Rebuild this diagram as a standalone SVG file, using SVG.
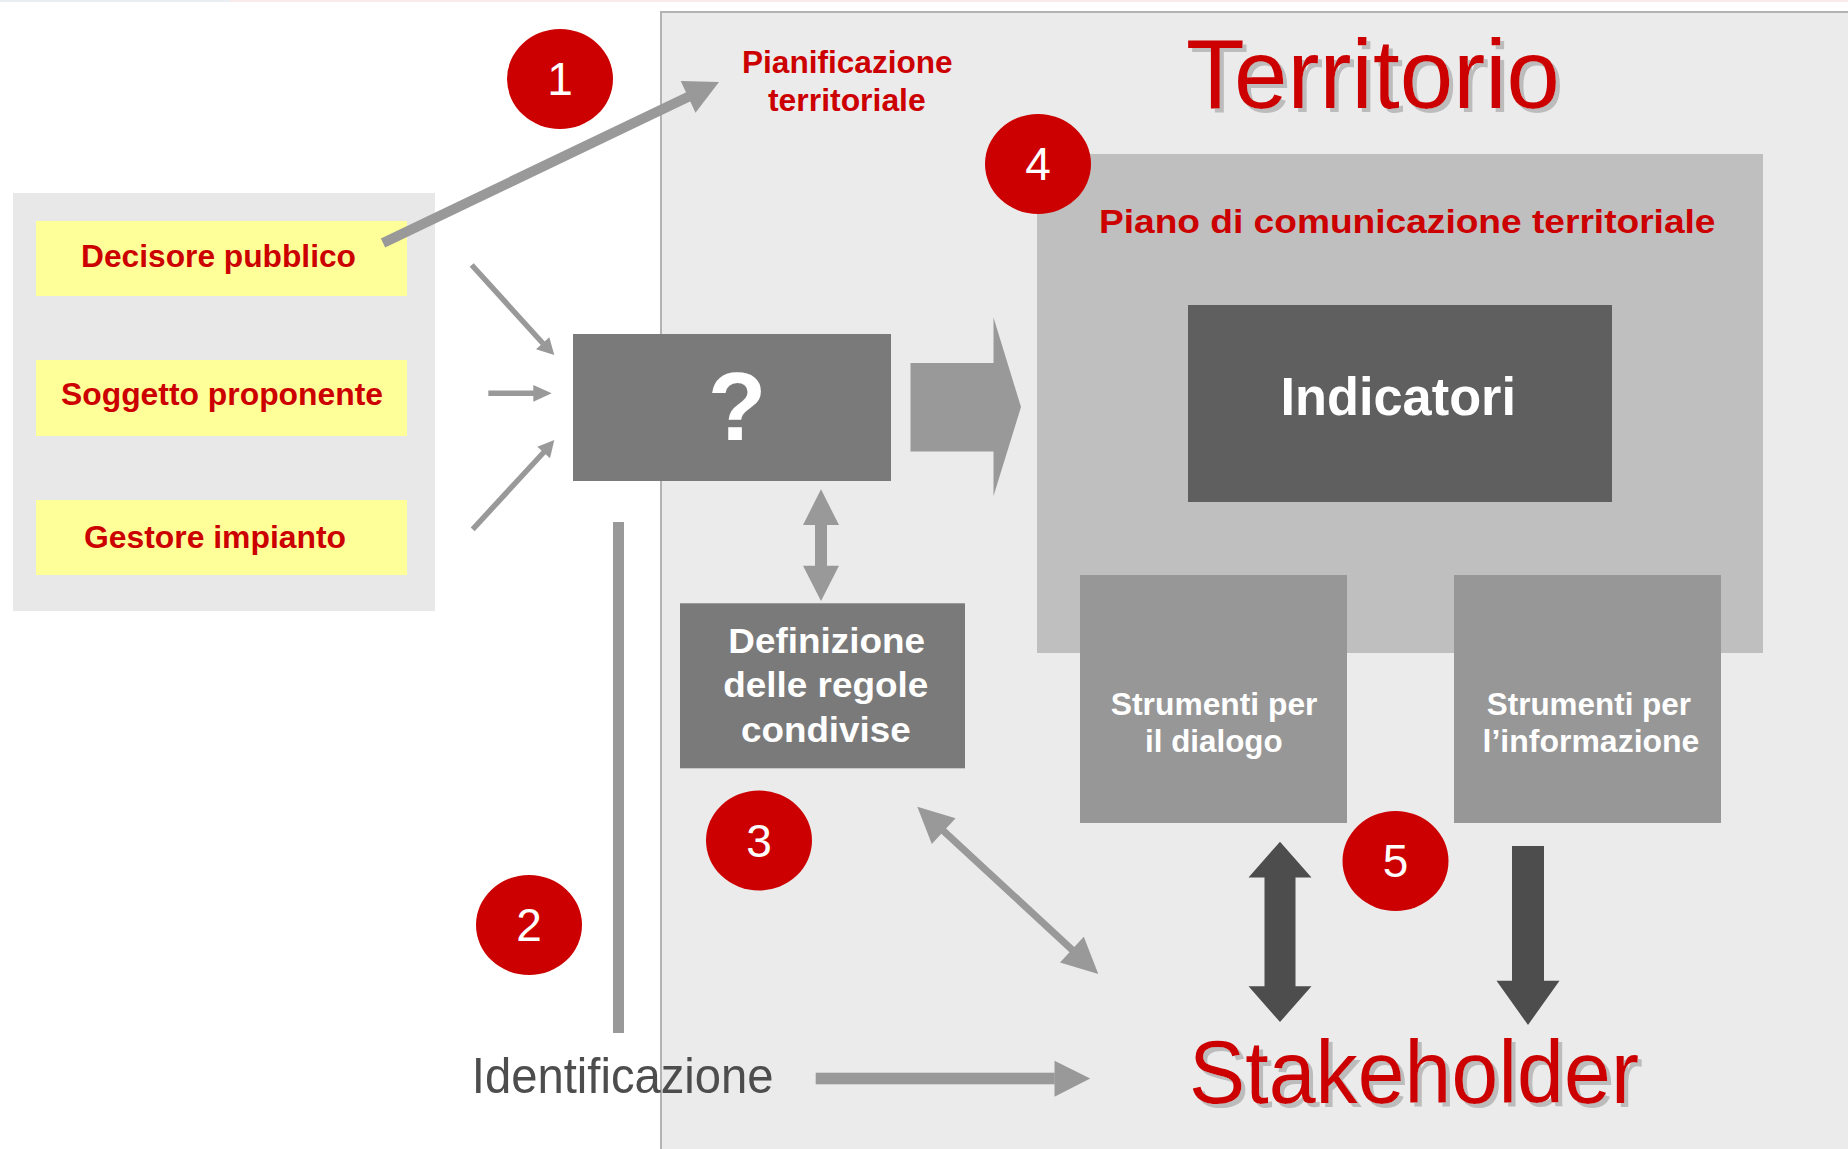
<svg xmlns="http://www.w3.org/2000/svg" width="1848" height="1149" viewBox="0 0 1848 1149">
<defs>
<filter id="shadow" x="-5%" y="-10%" width="115%" height="130%">
<feDropShadow dx="4" dy="4" stdDeviation="0.6" flood-color="#bcbcbc" flood-opacity="1"/>
</filter>
<style>
.b{font-family:"Liberation Sans",Arial,Helvetica,sans-serif;font-weight:bold}
.r{font-family:"Liberation Sans",Arial,Helvetica,sans-serif;font-weight:normal}
.red{fill:#cc0000}
.wh{fill:#ffffff}
.yel{fill:#ffff99}
.arr{fill:#999999}
.ln{stroke:#999999;fill:none}
.dk{fill:#4d4d4d}
.num{font-family:"Liberation Sans",Arial,Helvetica,sans-serif;font-size:46px;fill:#ffffff;text-anchor:middle}
.circ{fill:#cc0000}
.big{filter:url(#shadow)}
</style>
</defs>
<rect x="0" y="0" width="1848" height="1149" fill="#ffffff"/>
<rect x="0" y="0" width="1848" height="2" fill="#fbeaea"/>
<rect x="0" y="0" width="230" height="2" fill="#e8eef2"/>

<g id="territorio">
<rect x="661" y="12" width="1200" height="1150" fill="#ebebeb" stroke="#b3b3b3" stroke-width="2"/>
<text class="r red big" x="1186" y="108" font-size="99" textLength="374" lengthAdjust="spacingAndGlyphs">Territorio</text>
</g>

<g id="attori">
<rect x="13" y="193" width="422" height="418" fill="#e8e8e8"/>
</g>
<g id="decisore">
<rect class="yel" x="36" y="221" width="371" height="75"/>
<text class="b red" x="81" y="267" font-size="32" textLength="275" lengthAdjust="spacingAndGlyphs">Decisore pubblico</text>
</g>
<g id="soggetto">
<rect class="yel" x="36" y="360" width="371" height="76"/>
<text class="b red" x="61" y="405" font-size="32" textLength="322" lengthAdjust="spacingAndGlyphs">Soggetto proponente</text>
</g>
<g id="gestore">
<rect class="yel" x="36" y="500" width="371" height="75"/>
<text class="b red" x="84" y="547.6" font-size="32" textLength="262" lengthAdjust="spacingAndGlyphs">Gestore impianto</text>
</g>

<g id="pianificazione">
<text class="b red" x="742" y="73.3" font-size="31.5" textLength="210.6" lengthAdjust="spacingAndGlyphs">Pianificazione</text>
<text class="b red" x="768" y="111" font-size="31.5" textLength="157.7" lengthAdjust="spacingAndGlyphs">territoriale</text>
</g>

<g id="piano">
<rect x="1037" y="154" width="726" height="499" fill="#bfbfbf"/>
<text class="b red" x="1099" y="232.5" font-size="34" textLength="616.5" lengthAdjust="spacingAndGlyphs">Piano di comunicazione territoriale</text>
</g>
<g id="indicatori">
<rect x="1188" y="305" width="424" height="197" fill="#5f5f5f"/>
<text class="b wh" x="1280.5" y="415" font-size="53" textLength="235.5" lengthAdjust="spacingAndGlyphs">Indicatori</text>
</g>
<g id="strumenti-dialogo">
<rect x="1080" y="575" width="267" height="248" fill="#979797"/>
<text class="b wh" x="1110.8" y="715" font-size="32" textLength="206.7" lengthAdjust="spacingAndGlyphs">Strumenti per</text>
<text class="b wh" x="1145" y="751.6" font-size="32" textLength="137.6" lengthAdjust="spacingAndGlyphs">il dialogo</text>
</g>
<g id="strumenti-informazione">
<rect x="1454" y="575" width="267" height="248" fill="#979797"/>
<text class="b wh" x="1486.8" y="715" font-size="32" textLength="204.2" lengthAdjust="spacingAndGlyphs">Strumenti per</text>
<text class="b wh" x="1482.6" y="751.6" font-size="32" textLength="216.8" lengthAdjust="spacingAndGlyphs">l’informazione</text>
</g>

<g id="processo">
<rect x="573" y="334" width="318" height="147" fill="#7a7a7a"/>
<text class="b wh" x="737" y="439.7" font-size="96" text-anchor="middle">?</text>
</g>
<g id="definizione">
<rect x="680" y="603.3" width="285" height="165" fill="#7a7a7a"/>
<text class="b wh" x="728.3" y="652.7" font-size="35.5" textLength="196.7" lengthAdjust="spacingAndGlyphs">Definizione</text>
<text class="b wh" x="723.3" y="697.3" font-size="35.5" textLength="205" lengthAdjust="spacingAndGlyphs">delle regole</text>
<text class="b wh" x="741" y="741.7" font-size="35.5" textLength="169.7" lengthAdjust="spacingAndGlyphs">condivise</text>
</g>

<g id="identificazione">
<text class="r" fill="#4d4d4d" x="471.8" y="1092.7" font-size="50" textLength="301.8" lengthAdjust="spacingAndGlyphs">Identificazione</text>
</g>
<g id="stakeholder">
<text class="r red big" x="1189" y="1102.8" font-size="89" textLength="450" lengthAdjust="spacingAndGlyphs">Stakeholder</text>
</g>

<g id="connectors">
<line class="ln" x1="383" y1="243" x2="690" y2="96" stroke-width="10"/>
<polygon class="arr" points="719,82 680.7,81 695.5,112.7"/>
<line class="ln" x1="471.7" y1="265" x2="543" y2="343.5" stroke-width="5.5"/>
<polygon class="arr" points="554.3,355 536,349.3 549.3,337.3"/>
<line class="ln" x1="488.3" y1="393.3" x2="534" y2="393.3" stroke-width="5.5"/>
<polygon class="arr" points="551.7,393.3 533.3,385 533.3,401.7"/>
<line class="ln" x1="472.7" y1="529.3" x2="544" y2="452" stroke-width="5.5"/>
<polygon class="arr" points="554.3,440 537.3,446.7 550,458.3"/>
<rect class="arr" x="613" y="522" width="11" height="511"/>
<polygon class="arr" points="910.5,363 993.5,363 993.5,317.5 1021,407 993.5,496 993.5,451.5 910.5,451.5"/>
<polygon class="arr" points="821,489.3 839,525 827,525 827,565.7 839,565.7 821,601 803,565.7 815,565.7 815,525 803,525"/>
<polygon class="arr" points="917.3,806.7 955.6,818.3 946.1,828.5 1074.3,947 1083.8,936.8 1098.3,974 1060,962.5 1069.5,952.2 941.3,833.7 931.8,844"/>
<polygon class="dk" points="1280,841.7 1311.5,877.4 1295.5,877.4 1295.5,986.3 1311.5,986.3 1280,1022 1248.5,986.3 1264.5,986.3 1264.5,877.4 1248.5,877.4"/>
<polygon class="dk" points="1512,846 1544,846 1544,980.7 1559.5,980.7 1528,1025 1496.5,980.7 1512,980.7"/>
<rect class="arr" x="815.7" y="1072.7" width="239" height="11.6"/>
<polygon class="arr" points="1054.5,1060.7 1090.2,1078.5 1054.5,1096.7"/>
</g>

<g id="step1"><ellipse class="circ" cx="560" cy="79" rx="53" ry="50"/><text class="num" x="560" y="95">1</text></g>
<g id="step2"><ellipse class="circ" cx="529" cy="925" rx="53" ry="50"/><text class="num" x="529" y="941">2</text></g>
<g id="step3"><ellipse class="circ" cx="759" cy="840.5" rx="53" ry="50"/><text class="num" x="759" y="856.5">3</text></g>
<g id="step4"><ellipse class="circ" cx="1038" cy="164" rx="53" ry="50"/><text class="num" x="1038" y="180">4</text></g>
<g id="step5"><ellipse class="circ" cx="1395.5" cy="861" rx="53" ry="50"/><text class="num" x="1395.5" y="877">5</text></g>
</svg>
